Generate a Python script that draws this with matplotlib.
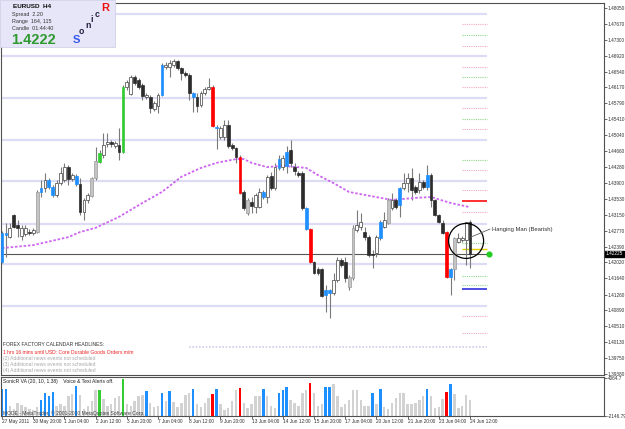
import matplotlib
matplotlib.use('Agg')
import matplotlib.pyplot as plt
from matplotlib.patches import Ellipse, Rectangle
from matplotlib.transforms import blended_transform_factory

plt.rcParams['font.family'] = ['Liberation Sans', 'DejaVu Sans']

# EURUSD H4 candles, 27 May 2011 -> 24 Jun 2011
opens = [1.4203, 1.4267, 1.4262, 1.4314, 1.4291, 1.4265, 1.4269, 1.4274, 1.4272, 1.4274,
         1.4369, 1.4378, 1.4381, 1.4381, 1.4362, 1.4390, 1.4397, 1.4428, 1.4400, 1.4407,
         1.4388, 1.4322, 1.4350, 1.4359, 1.4402, 1.4440, 1.4456, 1.4483, 1.4488, 1.4478,
         1.4480, 1.4464, 1.4617, 1.4601, 1.4642, 1.4634, 1.4622, 1.4594, 1.4594, 1.4565,
         1.4573, 1.4599, 1.4665, 1.4665, 1.4670, 1.4679, 1.4663, 1.4651, 1.4646, 1.4603,
         1.4594, 1.4575, 1.4603, 1.4613, 1.4617, 1.4521, 1.4499, 1.4499, 1.4528, 1.4480,
         1.4473, 1.4452, 1.4369, 1.4319, 1.4345, 1.4333, 1.4333, 1.4369, 1.4357, 1.4407,
         1.4378, 1.4426, 1.4428, 1.4431, 1.4469, 1.4428, 1.4414, 1.4414, 1.4331, 1.4281,
         1.4203, 1.4186, 1.4186, 1.4125, 1.4137, 1.4130, 1.4160, 1.4208, 1.4203, 1.4144,
         1.4165, 1.4279, 1.4286, 1.4274, 1.4262, 1.4222, 1.4225, 1.4260, 1.4286, 1.4296,
         1.4331, 1.4350, 1.4338, 1.4378, 1.4390, 1.4402, 1.4381, 1.4374, 1.4393, 1.4381,
         1.4409, 1.4350, 1.4314, 1.4296, 1.4274, 1.4167, 1.4186, 1.4250, 1.4255, 1.4255,
         1.4298]
highs = [1.4276, 1.4296, 1.4296, 1.4317, 1.4303, 1.4291, 1.4291, 1.4281, 1.4284, 1.4374,
         1.4397, 1.4414, 1.4402, 1.4386, 1.4397, 1.4428, 1.4438, 1.4433, 1.4414, 1.4412,
         1.4402, 1.4355, 1.4367, 1.4405, 1.4476, 1.4469, 1.4509, 1.4509, 1.4492, 1.4490,
         1.4521, 1.4622, 1.4634, 1.4646, 1.4646, 1.4639, 1.4627, 1.4603, 1.4599, 1.4584,
         1.4603, 1.4675, 1.4677, 1.4682, 1.4684, 1.4682, 1.4665, 1.4656, 1.4651, 1.4606,
         1.4603, 1.4608, 1.4618, 1.4639, 1.4622, 1.4528, 1.4525, 1.4540, 1.4540, 1.4485,
         1.4476, 1.4456, 1.4374, 1.4355, 1.4357, 1.4367, 1.4378, 1.4374, 1.4409, 1.4416,
         1.4438, 1.4456, 1.4456, 1.4478, 1.4492, 1.4438, 1.4419, 1.4419, 1.4333, 1.4284,
         1.4205, 1.4191, 1.4188, 1.4148, 1.4139, 1.4177, 1.4215, 1.4212, 1.4215, 1.4172,
         1.4291, 1.4326, 1.4319, 1.4286, 1.4267, 1.4232, 1.4267, 1.4303, 1.4322, 1.4355,
         1.4367, 1.4355, 1.4381, 1.4414, 1.4414, 1.4426, 1.4386, 1.4414, 1.4397, 1.4433,
         1.4414, 1.4352, 1.4317, 1.4303, 1.4276, 1.4188, 1.4262, 1.4272, 1.4265, 1.4298,
         1.4303]
lows = [1.4201, 1.4215, 1.4260, 1.4284, 1.4262, 1.4255, 1.4265, 1.4267, 1.4267, 1.4272,
        1.4357, 1.4369, 1.4376, 1.4357, 1.4357, 1.4386, 1.4393, 1.4386, 1.4395, 1.4383,
        1.4314, 1.4303, 1.4343, 1.4357, 1.4397, 1.4438, 1.4450, 1.4476, 1.4476, 1.4473,
        1.4445, 1.4461, 1.4611, 1.4599, 1.4622, 1.4613, 1.4587, 1.4589, 1.4556, 1.4561,
        1.4556, 1.4596, 1.4660, 1.4642, 1.4665, 1.4658, 1.4634, 1.4642, 1.4587, 1.4558,
        1.4558, 1.4570, 1.4599, 1.4611, 1.4523, 1.4471, 1.4495, 1.4492, 1.4473, 1.4469,
        1.4438, 1.4364, 1.4326, 1.4314, 1.4319, 1.4319, 1.4331, 1.4352, 1.4343, 1.4374,
        1.4374, 1.4421, 1.4421, 1.4414, 1.4428, 1.4409, 1.4405, 1.4326, 1.4279, 1.4201,
        1.4175, 1.4172, 1.4120, 1.4085, 1.4070, 1.4125, 1.4156, 1.4191, 1.4156, 1.4137,
        1.4160, 1.4274, 1.4279, 1.4255, 1.4215, 1.4189, 1.4215, 1.4255, 1.4284, 1.4293,
        1.4326, 1.4328, 1.4310, 1.4374, 1.4369, 1.4350, 1.4364, 1.4367, 1.4376, 1.4374,
        1.4333, 1.4312, 1.4296, 1.4269, 1.4165, 1.4125, 1.4160, 1.4248, 1.4250, 1.4196,
        1.4189]
closes = [1.4272, 1.4272, 1.4284, 1.4286, 1.4284, 1.4284, 1.4284, 1.4272, 1.4279, 1.4369,
          1.4378, 1.4397, 1.4397, 1.4362, 1.4390, 1.4414, 1.4428, 1.4400, 1.4409, 1.4388,
          1.4322, 1.4350, 1.4362, 1.4402, 1.4442, 1.4461, 1.4480, 1.4488, 1.4483, 1.4485,
          1.4464, 1.4617, 1.4629, 1.4642, 1.4627, 1.4617, 1.4596, 1.4599, 1.4568, 1.4580,
          1.4599, 1.4670, 1.4670, 1.4675, 1.4679, 1.4663, 1.4651, 1.4646, 1.4603, 1.4594,
          1.4573, 1.4603, 1.4613, 1.4618, 1.4525, 1.4523, 1.4521, 1.4528, 1.4478, 1.4473,
          1.4452, 1.4367, 1.4331, 1.4350, 1.4336, 1.4362, 1.4369, 1.4357, 1.4405, 1.4378,
          1.4428, 1.4447, 1.4450, 1.4464, 1.4438, 1.4419, 1.4409, 1.4331, 1.4281, 1.4203,
          1.4177, 1.4177, 1.4122, 1.4137, 1.4130, 1.4160, 1.4208, 1.4196, 1.4165, 1.4167,
          1.4284, 1.4291, 1.4298, 1.4262, 1.4220, 1.4220, 1.4262, 1.4298, 1.4303, 1.4350,
          1.4350, 1.4333, 1.4378, 1.4390, 1.4402, 1.4374, 1.4369, 1.4393, 1.4381, 1.4409,
          1.4350, 1.4314, 1.4298, 1.4272, 1.4167, 1.4186, 1.4260, 1.4260, 1.4260, 1.4298,
          1.4222]
# w = up, k = down, s = grey up, b / r / g = volume alert colours
candle_kinds = ('bbwkkwwkws' 'bwbbwwwkwb' 'kwwssgwwkw' 'kgwwkkkwkw' 'wbwwwkkkkb'
                'kwwwrbwwkk' 'krkskwwbwk' 'wbwbkkkkbr' 'kkkbbwwkks' 'swwkkkwbws'
                'wkbwwkkwkb' 'kkkkrbswwwk')

# SonicR VA histogram (height above the panel floor)
volumes = [4444, 4444, 1667, 1162, 2172, 1768, 1414, 1162, 909, 1414,
           2677, 3687, 3182, 3939, 1667, 1919, 1667, 3182, 3586, 4949,
           3434, 1162, 1667, 2424, 4192, 4293, 2778, 1667, 1919, 2929,
           3182, 5959, 1919, 1667, 2424, 3182, 3434, 4091, 2172, 1414,
           1667, 3687, 2424, 4091, 2273, 1414, 2172, 3434, 3687, 4343,
           1919, 1414, 2172, 2929, 3586, 4343, 1919, 909, 1263, 2424,
           4192, 4545, 2172, 1263, 1919, 3182, 3283, 4444, 3283, 1667,
           1263, 3687, 4293, 4697, 2677, 2172, 1667, 3788, 4293, 5303,
           3788, 1667, 1919, 4697, 4798, 5202, 3182, 1414, 1919, 2677,
           4293, 4293, 2677, 1667, 1667, 3788, 1919, 4343, 1414, 1162,
           2172, 2929, 3687, 3687, 2020, 2020, 2172, 2677, 3283, 4343,
           3182, 1263, 1414, 2778, 3939, 5202, 3586, 1263, 1667, 3434, 2677]
volume_kinds = ('bbxxxxxxxx' 'bbbbxxxxxb' 'xxxxxgxxxx' 'xgxxxxxbxx' 'xbxbxxxxxb'
                'xxxxrbxxxx' 'xrxxxxxbxx' 'xbbbxxxxxr' 'xxxbbxxxxx' 'xxxxxbxbxx'
                'xxxxxxxxxb' 'xxxxrbxxxxx')
vol_top, vol_bottom = 4064.7, -2146.79

# moving average (sampled along the dotted purple line)
ma_bars = [0, 8, 17, 20, 24, 30, 36, 41, 46, 51, 55, 60, 62, 64, 68, 72, 78, 81, 85,
           89, 93, 100, 106, 110, 115, 120]
ma_values = [1.4236, 1.4243, 1.4262, 1.4274, 1.4284, 1.4310, 1.4343, 1.4369, 1.4405,
             1.4426, 1.4438, 1.4447, 1.4447, 1.4438, 1.4428, 1.4431, 1.4426, 1.4409,
             1.4390, 1.4369, 1.4362, 1.4350, 1.4355, 1.4357, 1.4343, 1.4333]

# round-number lines and the short level marks on the right
round_levels = [1.4790, 1.4691, 1.4592, 1.4492, 1.4395, 1.4294, 1.4198, 1.4098]
low_round_level = 1.4002
dotted_levels = [1.4767, 1.4741, 1.4715, 1.4666, 1.4642, 1.4617, 1.4567, 1.4542, 1.4518,
                 1.4445, 1.4421, 1.4374, 1.4322, 1.4249, 1.4170, 1.4149, 1.4075, 1.4035]
dotted_colors = ['p', 'g', 'p', 'p', 'g', 'p', 'p', 'g', 'p',
                 'g', 'p', 'p', 'p', 'g', 'g', 'g', 'p', 'p']
solid_levels = [1.4348, 1.4235, 1.4138]
solid_colors = ['#ff2020', '#e0d000', '#4040e0']
bid = 1.42225

price_labels = ['1.48050', '1.47670', '1.47300', '1.46920', '1.46540', '1.46170',
                '1.45790', '1.45410', '1.45040', '1.44660', '1.44280', '1.43900',
                '1.43530', '1.43150', '1.42770', '1.42390', '1.42020', '1.41640',
                '1.41260', '1.40890', '1.40510', '1.40130', '1.39750', '1.39380']
time_labels = ['27 May 2011', '30 May 20:00', '1 Jun 04:00', '2 Jun 12:00', '3 Jun 20:00',
               '7 Jun 04:00', '8 Jun 12:00', '9 Jun 20:00', '13 Jun 04:00', '14 Jun 12:00',
               '15 Jun 20:00', '17 Jun 04:00', '20 Jun 12:00', '21 Jun 20:00',
               '23 Jun 04:00', '24 Jun 12:00']

news_lines = ['1 hrs 16 mins until USD: Core Durable Goods Orders m/m',
              '(2) Additional news events not scheduled',
              '(3) Additional news events not scheduled',
              '(4) Additional news events not scheduled']

W, H = 625, 429
FRAME = '#505050'
SMALL = 3.6
AXIS_FS = 3.45


def px_box(x0, y0, x1, y1):
    return [x0 / W, 1 - y1 / H, (x1 - x0) / W, (y1 - y0) / H]


def ftext(x, y, s, **kw):
    fig.text(x / W, 1 - y / H, s, va='center', ha='left', zorder=6, **kw)


fig = plt.figure(figsize=(W / 100, H / 100), dpi=100)
ax = fig.add_axes(px_box(1, 3, 604, 374.5))
axv = fig.add_axes(px_box(1, 377, 604, 416))

n = len(closes)
xs = list(range(n))
xlim = (-0.26, 154.36)

# candles
body_style = {'w': ('white', '#404040'), 'k': ('#2c2c2c', '#2c2c2c'),
              's': ('#c4c4c4', '#9a9a9a'), 'b': ('#1e8fff', '#1e8fff'),
              'r': ('#ff0000', '#ff0000'), 'g': ('#33cc33', '#33cc33')}
ax.vlines(xs, lows, highs, color='#7a7a7a', lw=0.8, zorder=3)
bottoms = [min(o, c) for o, c in zip(opens, closes)]
heights = [max(abs(c - o), 0.00006) for o, c in zip(opens, closes)]
ax.bar(xs, heights, bottom=bottoms, width=0.72,
       color=[body_style[k][0] for k in candle_kinds],
       edgecolor=[body_style[k][1] for k in candle_kinds], lw=0.5, zorder=4)

# horizontal levels
ax.hlines(round_levels, xlim[0], 124.3, color='#dcdcf4', lw=1.6, zorder=1)
ax.hlines(low_round_level, 48, 124.3, color='#cfcfe6', lw=1.2, ls=(0, (1, 1)), zorder=1)
lvl_col = {'p': '#f4a8b8', 'g': '#8ad88a'}
for lv, c in zip(dotted_levels, dotted_colors):
    ax.hlines(lv, 118, 124.3, color=lvl_col[c], lw=0.8, ls=(0, (1, 1)), zorder=2)
for lv, c in zip(solid_levels, solid_colors):
    ax.hlines(lv, 118, 124.3, color=c, lw=1.3 if c != '#e0d000' else 1.0, zorder=2)
ax.hlines(bid, xlim[0], 124.5, color='#555555', lw=0.8, zorder=2)
ax.plot([124.8], [bid], 'o', color='#22cc22', ms=3.4, zorder=5)

ax.plot(ma_bars, ma_values, color='#cc66ee', lw=1.3, ls=(0, (1.4, 1)), zorder=3)

# hanging man mark
ax.add_patch(Ellipse((119, 1.4253), 35 / 3.9, 35 * 0.000237, fill=False,
                     ec='black', lw=0.9, zorder=6))
ax.plot([120.2, 125.1], [1.4262, 1.4281], color='#606060', lw=0.6, zorder=6)
ax.text(125.6, 1.4281, 'Hanging Man (Bearish)', fontsize=4.2, color='#303030',
        va='center', ha='left', zorder=6)

ax.set_xlim(*xlim)
ax.set_ylim(1.39364, 1.48169)
ax.yaxis.tick_right()
ax.set_yticks([float(s) for s in price_labels])
ax.set_yticklabels(price_labels)
ax.set_xticks([])
ax.tick_params(axis='y', labelsize=AXIS_FS, length=2, pad=0.5, width=0.6,
               color=FRAME, labelcolor='#303030')

trans = blended_transform_factory(ax.transAxes, ax.transData)
ax.text(1.003, bid, '1.42225', transform=trans, fontsize=AXIS_FS, color='white',
        va='center', ha='left', clip_on=False, zorder=7,
        bbox=dict(fc='black', ec='black', pad=0.5))

# volume panel
vol_col = {'x': '#d2d2d2', 'b': '#1e8fff', 'r': '#ff0000', 'g': '#33cc33'}
axv.bar(xs, volumes, bottom=vol_bottom, width=0.62,
        color=[vol_col[k] for k in volume_kinds], lw=0)
axv.set_xlim(*xlim)
axv.set_ylim(vol_bottom, vol_top + 150)
axv.yaxis.tick_right()
axv.set_yticks([vol_top, vol_bottom])
axv.set_yticklabels(['4064.7', '-2146.79'])
axv.set_xticks(list(range(0, n, 8)))
axv.set_xticklabels(time_labels, ha='left')
axv.tick_params(labelsize=AXIS_FS, length=2, pad=0.5, width=0.6,
                color=FRAME, labelcolor='#303030')

for a in (ax, axv):
    for sp in a.spines.values():
        sp.set_color(FRAME)
        sp.set_linewidth(0.8)

# info box, top left
fig.add_artist(Rectangle((0, 1 - 47 / H), 115 / W, 47 / H, transform=fig.transFigure,
                         fc='#e6e6f8', ec='#d0d0ea', lw=0.6, zorder=5))
ftext(13, 6, 'EURUSD  H4', fontsize=4.6, fontweight='bold', color='#101010')
ftext(12, 14.5, 'Spread  2.20', fontsize=3.9, color='#333333')
ftext(12, 21.5, 'Range  164, 115', fontsize=3.9, color='#333333')
ftext(12, 28.5, 'Candle  01:44:40', fontsize=3.9, color='#333333')
ftext(11, 39.5, '1.4222', fontsize=10.5, fontweight='bold', color='#2f9a2f')
for x, y, ch, col in [(73, 40, 'S', '#3355ee'), (79, 32, 'o', '#202040'),
                      (85, 26, 'n', '#202040'), (90.5, 20, 'i', '#202040'),
                      (95, 14.5, 'c', '#202040'), (101, 8, 'R', '#ee1111')]:
    ftext(x, y, ch, fontsize=8 if ch in 'SR' else 6.3, fontweight='bold', color=col)

# calendar headlines
ftext(3, 345, 'FOREX FACTORY CALENDAR HEADLINES:', fontsize=SMALL, color='#333333')
for k, line in enumerate(news_lines):
    ftext(3, 352.5 + 5.9 * k, line, fontsize=SMALL,
          color='#ee2020' if k == 0 else '#a8a8a8')

ftext(3, 381.5, 'SonicR VA (20, 10, 1.38)    Voice & Text Alerts off.',
      fontsize=SMALL, color='#202020')
ftext(3, 413, 'MODE - MetaTrader, \u00a9 2001-2010 MetaQuotes Software Corp.',
      fontsize=SMALL, color='#404040')

fig.savefig('out.png', dpi=100)
